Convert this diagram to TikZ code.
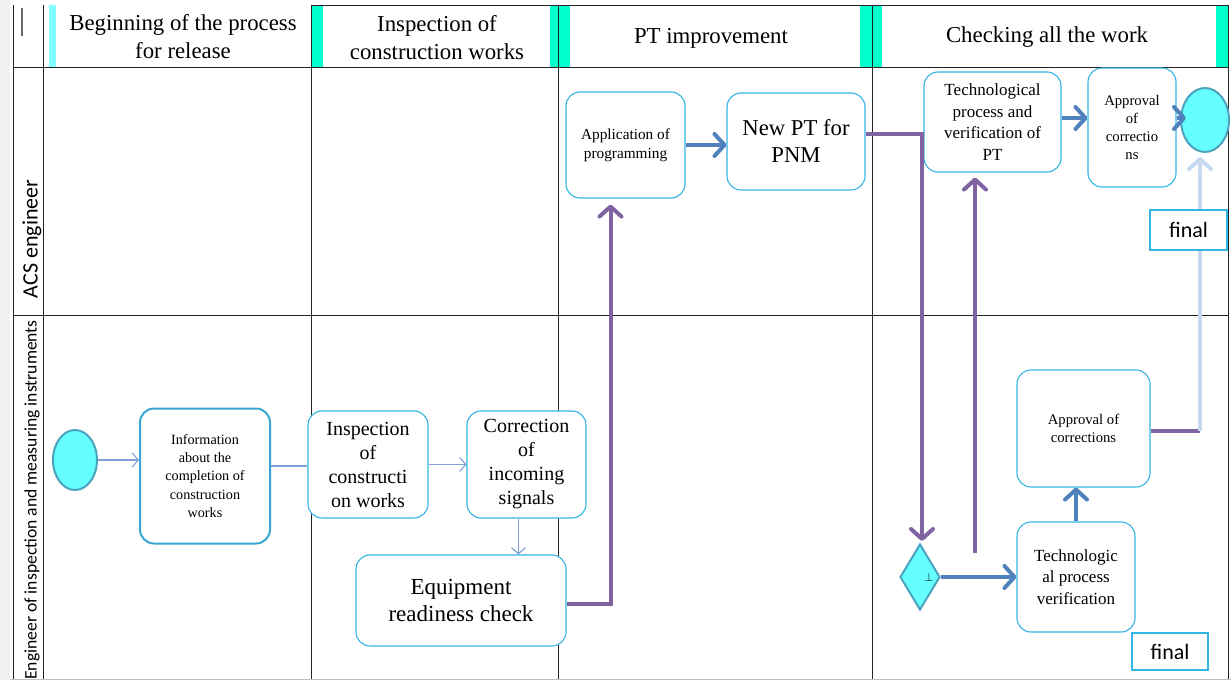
\documentclass[tikz,border=0pt]{standalone}
\usepackage{fontspec}
\setmainfont{Liberation Serif}
\newfontfamily\carl{Carlito}
\usetikzlibrary{arrows.meta,shapes.geometric}
\definecolor{boxc}{HTML}{33B5E5}
\definecolor{boxd}{HTML}{3AA6D6}
\definecolor{startfill}{HTML}{66FFFF}
\definecolor{startdraw}{HTML}{4BA3BF}
\definecolor{thinc}{HTML}{7F9FD5}
\definecolor{bluec}{HTML}{4F81BD}
\definecolor{purpc}{HTML}{8064A2}
\definecolor{lightc}{HTML}{C6D9F1}
\definecolor{headcyan}{HTML}{00FFCC}
\definecolor{headlight}{HTML}{80FFFF}
\definecolor{gridc}{HTML}{222222}
\tikzset{
  x=1pt, y=-1pt,
  pbox/.style={draw=boxc, line width=1.1pt, rounded corners=14pt, fill=white, align=center, inner sep=0pt},
  finalbox/.style={draw=boxc, line width=1.1pt, fill=white, inner sep=0pt, font=\carl\fontsize{22}{24}\selectfont},
  startev/.style={ellipse, draw=startdraw, line width=2pt, fill=startfill, inner sep=0pt},
  thinarrow/.style={draw=thinc, line width=1.1pt},
  bluearrow/.style={draw=bluec, line width=4pt},
  purparrow/.style={draw=purpc, line width=4pt},
  lightarrow/.style={draw=lightc, line width=4pt},
  thintip/.style={-{Straight Barb[length=6pt,width=14pt,line width=1.1pt]}},
  bigtip/.style={-{Straight Barb[length=10pt,width=22pt,line width=4pt,round]}},
  gridline/.style={draw=gridc, line width=0.9pt},
  headtext/.style={align=center, font=\fontsize{22.8}{28}\selectfont},
}
\begin{document}
\begin{tikzpicture}
\useasboundingbox (0,0) rectangle (1231,680);
\fill[white] (0,0) rectangle (1231,680);
\fill[black!6] (0,0) rectangle (10,680);
% header strips
\fill[headlight] (49,5) rectangle (56,67);
\fill[headcyan] (311,5) rectangle (323,67);
\fill[headcyan] (550,5) rectangle (570,67);
\fill[headcyan] (860,5) rectangle (882,67);
\fill[headcyan] (1216,5) rectangle (1228,67);
% grid
\draw[gridline] (13,5) -- (13,680);
\draw[gridline] (43,5) -- (43,680);
\draw[gridline] (311,5) -- (311,680);
\draw[gridline] (558,5) -- (558,680);
\draw[gridline] (872,5) -- (872,680);
\draw[gridline] (1228,5) -- (1228,680);
\draw[gridline] (311,5) -- (1228,5);
\draw[gridline] (13,67) -- (1228,67);
\draw[gridline] (13,315) -- (1228,315);
\draw[draw=black!60, line width=2pt] (22,8) -- (22,36);
\draw[draw=black!25, line width=1pt] (10,679) -- (1231,679);
% header texts
\node[headtext] (h1) at (183,37) {Beginning of the process\\for release};
\node[headtext] (h2) at (437,38) {Inspection of\\construction works};
\node[headtext] (h3) at (711,38) {PT improvement};
\node[headtext] (h4) at (1047,37) {Checking all the work};
% lane labels
\node[rotate=90, font=\carl\fontsize{22}{24}\selectfont] (l1) at (32,239) {ACS engineer};
\node[rotate=90, font=\carl\fontsize{17.6}{20}\selectfont] (l2) at (32,500) {Engineer of inspection and measuring instruments};
% nodes
\node[startev, minimum width=44pt, minimum height=60pt] (start) at (75,460) {};
\node[pbox, draw=boxd, line width=2pt, minimum width=130pt, minimum height=135pt, font=\fontsize{14.2}{18.3}\selectfont] (info) at (205,476) {Information\\about the\\completion of\\construction\\works};
\node[pbox, minimum width=120pt, minimum height=107pt, font=\fontsize{20}{24}\selectfont] (insp) at (368,464.5) {Inspection\\of\\constructi\\on works};
\node[pbox, minimum width=119pt, minimum height=107pt, font=\fontsize{20}{24}\selectfont] (corr) at (526.5,464.5) {Correction\\of\\incoming\\signals};
\node[pbox, minimum width=210pt, minimum height=91pt, font=\fontsize{23}{27}\selectfont] (eq) at (461,600.5) {Equipment\\readiness check};
\node[pbox, minimum width=119pt, minimum height=106pt, font=\fontsize{15.3}{19}\selectfont] (app) at (625.5,145) {Application of\\programming};
\node[pbox, minimum width=138pt, minimum height=97pt, font=\fontsize{22.7}{27}\selectfont] (newpt) at (796,141.5) {New PT for\\PNM};
\node[pbox, minimum width=137pt, minimum height=100pt, font=\fontsize{17}{21.5}\selectfont] (tp) at (992.5,122) {Technological\\process and\\verification of\\PT};
\node[pbox, minimum width=88pt, minimum height=119pt, font=\fontsize{14.7}{18.3}\selectfont] (ap9) at (1132,127.5) {Approval\\of\\correctio\\ns};
\node[startev, minimum width=48pt, minimum height=64pt] (endc) at (1205,120) {};
\node[pbox, minimum width=133pt, minimum height=117pt, font=\fontsize{14.7}{18}\selectfont] (ac) at (1083.5,428.5) {Approval of\\corrections};
\node[pbox, minimum width=118pt, minimum height=110pt, font=\fontsize{17}{21.5}\selectfont] (tv) at (1076,577) {Technologic\\al process\\verification};
\node[diamond, draw=startdraw, line width=2pt, fill=startfill, inner sep=0pt, minimum width=40pt, minimum height=66pt, aspect=0.6] (dia) at (920,577) {};
\node[font=\fontsize{13}{14}\selectfont, inner sep=0pt] (perp) at (929,577) {$\perp$};
% coordinates
\coordinate (r1) at (0,118);
\coordinate (r2) at (0,466);
\coordinate (pv) at (975,553);
\coordinate (corner) at (1200,431);
% connectors
\draw[thinarrow, thintip] (start.east) -- (start.east -| info.west);
\draw[thinarrow] (info.east |- r2) -- (insp.west |- r2);
\draw[thinarrow, thintip] (insp.east) -- (corr.west);
\draw[thinarrow, thintip] ([xshift=-8pt]corr.south) -- ([xshift=-8pt]corr.south |- eq.north);
\draw[purparrow, bigtip, shorten >=6pt] ([yshift=-3pt]eq.east) -| ([xshift=-15pt]app.south);
\draw[bluearrow, bigtip] (app.east) -- (app.east -| newpt.west);
\draw[purparrow, bigtip, shorten >=2pt] ([yshift=8pt]newpt.east) -| ([xshift=2pt]dia.north);
\draw[bluearrow, bigtip] (dia.east) -- (dia.east -| tv.west);
\draw[purparrow, bigtip, shorten >=5pt] (pv) -- (pv |- tp.south);
\draw[bluearrow, bigtip] (tv.north) -- (tv.north |- ac.south);
\draw[purparrow] (ac.east |- corner) -- (corner);
\draw[lightarrow, bigtip, shorten >=4pt] (corner) -- (corner |- endc.south);
\draw[bluearrow, bigtip] (tp.east |- r1) -- (ap9.west |- r1);
\draw[bluearrow, bigtip, shorten >=-6pt] (ap9.east |- r1) -- (endc.west |- r1);
% final boxes
\node[finalbox, minimum width=77pt, minimum height=40pt] (fin1) at (1188.5,230) {final};
\node[finalbox, minimum width=76pt, minimum height=37pt] (fin2) at (1170,651.5) {final};
\end{tikzpicture}
\end{document}
